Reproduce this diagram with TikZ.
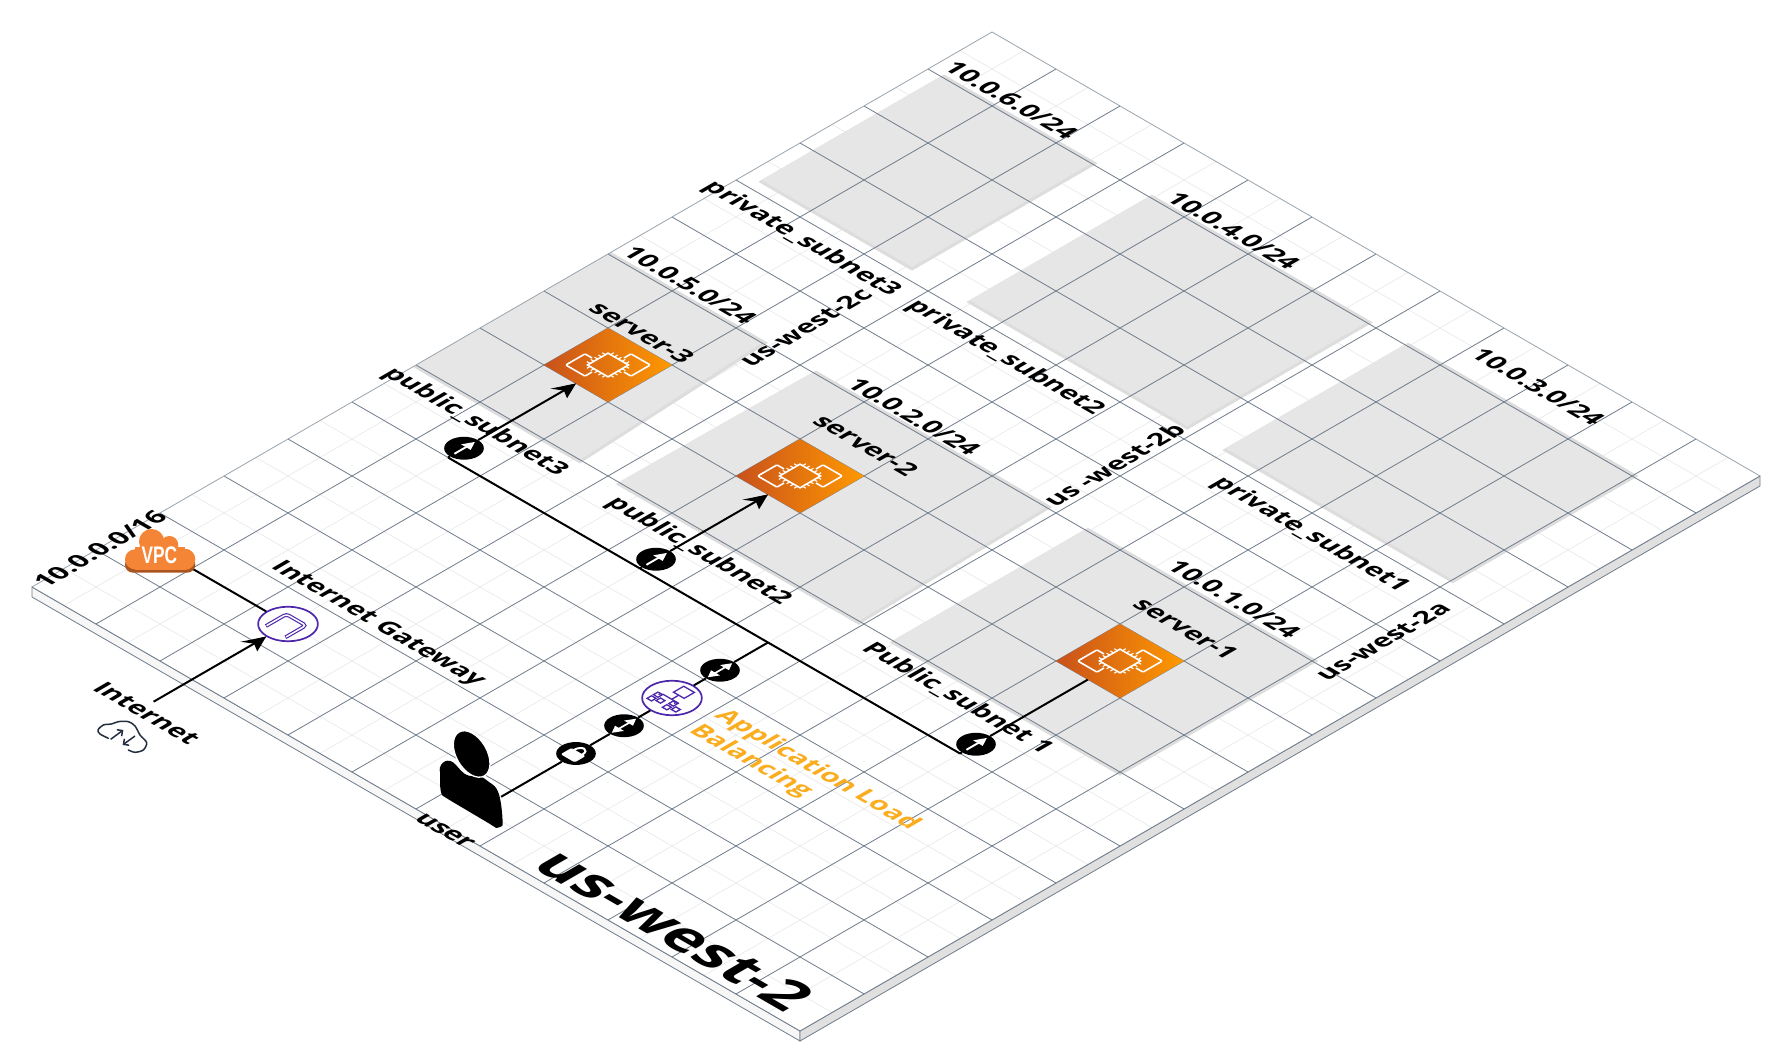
\documentclass[tikz,border=0pt]{standalone}
\usepackage{fontspec}
\setmainfont{Open Sans}
\newfontfamily\vpcfont{Liberation Sans}
\usetikzlibrary{arrows.meta}
\definecolor{major}{HTML}{6F7C8B}
\definecolor{minor}{HTML}{EBEBEB}
\definecolor{edgeline}{HTML}{9AA4AE}
\definecolor{subnetgray}{HTML}{E6E6E6}
\definecolor{subnetshade}{HTML}{DDDDDD}
\definecolor{purple}{HTML}{4D27AA}
\definecolor{awsorange}{HTML}{F58536}
\definecolor{awsdark}{HTML}{A9541F}
\definecolor{squid}{HTML}{232F3E}
\definecolor{albtext}{HTML}{FAAD1E}
\definecolor{srvleft}{HTML}{C8511B}
\definecolor{srvright}{HTML}{FF9900}
\tikzset{
  isoplane/.style={cm={.8,-.4625,.8,.4625,(32pt,476pt)},x=80pt,y=80pt},
  isolab/.style={transform shape,font=\bfseries\fontsize{26}{32}\selectfont,text=black,inner sep=0pt,xscale=1.125},
  alonglab/.style={rotate=90,isolab},
  wire/.style={line width=2pt,black},
  wirearrow/.style={wire,-{Stealth[length=13pt,width=8pt,inset=3pt]}},
  gwnode/.style={circle,transform shape,draw=purple,line width=1.7pt,fill=white,inner sep=0pt,minimum size=52.8pt},
  dotnode/.style={circle,transform shape,fill=black,inner sep=0pt,minimum size=35pt},
  srvnode/.style={rectangle,transform shape,inner sep=0pt,outer sep=0pt,minimum size=80pt},
  iconwhite/.style={white,line width=1.6pt},
  iconpurple/.style={purple,line width=1.3pt},
  pics/chipicon/.style={code={
    \draw[iconwhite,rounded corners=1pt] (-.22,-.03)--(-.33,-.03)--(-.33,-.33)--(-.03,-.33)--(-.03,-.22);
    \draw[iconwhite,rounded corners=1pt] (.22,.03)--(.33,.03)--(.33,.33)--(.03,.33)--(.03,.22);
    \draw[iconwhite] (-.16,-.16) rectangle (.16,.16);
    \foreach \t in {-.12,-.06,0,.06,.12}{
      \draw[iconwhite,line width=1.1pt] (\t,.16)--(\t,.21);
      \draw[iconwhite,line width=1.1pt] (\t,-.16)--(\t,-.21);
      \draw[iconwhite,line width=1.1pt] (.16,\t)--(.21,\t);
      \draw[iconwhite,line width=1.1pt] (-.16,\t)--(-.21,\t);
    }
  }},
  pics/isotip/.style={code={
    \fill[black] (0,0)--(-.13,-.27)--(0,-.19)--(.13,-.27)--cycle;
  }},
  pics/uparrow/.style={code={
    \draw[white,line width=1.9pt] (0,-.15)--(0,.06);
    \fill[white] (0,.17)--(-.075,.03)--(.075,.03)--cycle;
  }},
  pics/bothways/.style={code={
    \draw[white,line width=1.7pt] (0,-.1)--(0,.1);
    \fill[white] (0,.19)--(-.07,.07)--(.07,.07)--cycle;
    \fill[white] (0,-.19)--(-.07,-.07)--(.07,-.07)--cycle;
  }},
  pics/padlock/.style={code={
    \fill[white,rounded corners=1.5pt] (-.11,-.13) rectangle (.11,.04);
    \draw[white,line width=2pt] (-.065,.03) .. controls (-.065,.16) and (.065,.16) .. (.065,.03);
  }},
  pics/gatewayu/.style={code={
    \draw[purple,line width=3.8pt,rounded corners=3pt] (-.145,-.2)--(-.145,.12)--(.16,.12)--(.16,-.2);
    \draw[white,line width=1.5pt,rounded corners=3pt] (-.145,-.19)--(-.145,.12)--(.16,.12)--(.16,-.19);
  }},
  pics/albtree/.style={code={
    \draw[iconpurple] (-.067,.09) rectangle (.1,.25);
    \draw[iconpurple] (.015,.09)--(.015,-.02);
    \draw[iconpurple] (-.13,-.02)--(.13,-.02);
    \foreach \c in {-.12,.12}{
      \draw[iconpurple] (\c-.03,-.02)--(\c-.03,-.06);
      \draw[iconpurple] (\c-.07,-.1) rectangle (\c-.0,-.03);
      \draw[iconpurple] (\c-.07,-.2) rectangle (\c-.0,-.13);
      \draw[iconpurple] (\c+.03,-.16) rectangle (\c+.1,-.09);
    }
  }}
}
\begin{document}
\begin{tikzpicture}[x=1pt,y=1pt]
\useasboundingbox (0,0) rectangle (1792,1063);
% plate sides
\draw[major,line width=.8pt,fill=black!3] (32,476)--(800,32)--(800,22)--(32,466)--cycle;
\draw[major,line width=.8pt,fill=black!12] (800,32)--(1760,587)--(1760,577)--(800,22)--cycle;
\begin{scope}[isoplane]
  \fill[white] (0,0) rectangle (12,15);
  \foreach \k in {0,...,11}{\draw[minor,line width=.7pt] (\k+.5,0)--(\k+.5,15);}
  \foreach \k in {0,...,14}{\draw[minor,line width=.7pt] (0,\k+.5)--(12,\k+.5);}
  % subnet areas
  \foreach \a/\b/\c/\d/\e/\f/\g/\h in {
    0/6/0/9/2.4/9/2.56/6,
    3.17/6/3.2/9/6.84/9/6.92/6,
    7.45/6/7.45/9/11/9/11/6,
    .2/11.2/.2/14/2.55/14/2.55/11.2,
    3.45/11.2/3.45/14/6.85/14/6.85/11.2,
    7.45/11.2/7.45/14/11/14/11/11.2}{
    \fill[subnetshade] (\a,\b-.05)--(\c,\d+.05)--(\e+.05,\f+.05)--(\g+.05,\h-.05)--cycle;
    \fill[subnetgray] (\a,\b)--(\c,\d)--(\e,\f)--(\g,\h)--cycle;
  }
  \foreach \k in {1,...,11}{\draw[major,line width=.8pt] (\k,0)--(\k,15);}
  \foreach \k in {1,...,14}{\draw[major,line width=.8pt] (0,\k)--(12,\k);}
  \draw[edgeline,line width=.8pt] (0,0)--(0,15)--(12,15);
  \draw[major,line width=.8pt] (0,0)--(12,0)--(12,15);
  % named places
  \coordinate (vpcport) at (1,1.5);
  \coordinate (inetport) at (2.5,-.6);
  \coordinate (userport) at (6.5,.83);
  \coordinate (trunkw) at (1.5,5);
  \coordinate (trunkm) at (4.5,5);
  \coordinate (trunkalb) at (6.5,5);
  \coordinate (trunke) at (9.5,5);
  \node[srvnode] (server3) at (1.5,7.5) {};
  \node[srvnode] (server2) at (4.5,7.5) {};
  \node[srvnode] (server1) at (9.5,7.5) {};
  \node[gwnode] (igw) at (2.5,1.5) {};
  \node[gwnode] (alb) at (6.5,3.5) {};
  \node[dotnode] (lockdot) at (6.5,2) {};
  \node[dotnode] (albin) at (6.5,2.75) {};
  \node[dotnode] (albout) at (6.5,4.25) {};
  \node[dotnode] (dot3) at (1.5,5.25) {};
  \node[dotnode] (dot2) at (4.5,5.25) {};
  \node[dotnode] (dot1) at (9.5,5.25) {};
  % connectors
  \draw[wire] (vpcport)--(igw);
  \draw[wirearrow] (inetport)--(igw);
  \draw[wire] (trunkw)--(trunke);
  \draw[wire] (trunkw)--(dot3);
  \draw[wire] (trunkm)--(dot2);
  \draw[wire] (trunke)--(dot1);
  \draw[wirearrow] (dot3)--(server3);
  \draw[wirearrow] (dot2)--(server2);
  \draw[wire] (dot1)--(server1);
  \draw[wire] (userport)--(lockdot);
  \draw[wire] (lockdot)--(albin);
  \draw[wire] (albin)--(alb);
  \draw[wire] (alb)--(albout);
  \draw[wire] (albout)--(trunkalb);
\end{scope}
% servers
\foreach \s in {server1,server2,server3}{
  \shade[left color=srvleft,right color=srvright]
    (\s.south west)--(\s.north west)--(\s.north east)--(\s.south east)--cycle;
}
\begin{scope}[isoplane]
  \pic[transform shape] at (server3.south) {isotip};
  \pic[transform shape] at (server2.south) {isotip};
  \pic[transform shape] at (igw.south) {isotip};
  \pic[transform shape] at (server3.center) {chipicon};
  \pic[transform shape] at (server2.center) {chipicon};
  \pic[transform shape] at (server1.center) {chipicon};
  \pic[transform shape] at (dot3.center) {uparrow};
  \pic[transform shape] at (dot2.center) {uparrow};
  \pic[transform shape] at (dot1.center) {uparrow};
  \pic[transform shape] at (albin.center) {bothways};
  \pic[transform shape] at (albout.center) {bothways};
  \pic[transform shape] at (lockdot.center) {padlock};
  \pic[transform shape] at (igw.center) {gatewayu};
  \pic[transform shape] at (alb.center) {albtree};
\end{scope}
% VPC cloud
\begin{scope}[shift={(90,543)},x=.3333pt,y=-.3333pt]
  \fill[awsdark,rounded corners=8pt] (105,110) rectangle (316,158);
  \fill[awsorange] (135,118) circle (30);
  \fill[awsorange] (185,65) circle (38);
  \fill[awsorange] (238,75) circle (27);
  \fill[awsorange] (284,118) circle (32);
  \fill[awsorange] (135,80) rectangle (285,150);
  \node[text=white,font=\vpcfont\bfseries\fontsize{24}{24}\selectfont,xscale=.72,inner sep=0pt] (vpc) at (208,106) {VPC};
\end{scope}
% Internet cloud
\begin{scope}[shift={(90,543)},x=.3333pt,y=-.3333pt]
  \draw[squid,line width=1.5pt,line cap=round,line join=round] plot[smooth] coordinates {(55,655)(30,642)(24,630)(40,615)(65,612)(85,605)(115,605)(135,618)(150,645)(170,668)(160,690)(135,697)(115,690)};
  \draw[squid,line width=1.5pt,-{Straight Barb[length=4pt,width=8pt]}] (62,658)--(100,630);
  \draw[squid,line width=1.5pt,-{Straight Barb[length=4pt,width=8pt]}] (135,648)--(98,675);
\end{scope}
% user
\begin{scope}[shift={(430,403)},x=.3333pt,y=-.3333pt]
  \fill[black,rounded corners=5pt] (30,345) .. controls (28,310) and (55,285) .. (90,330)
     .. controls (120,355) and (150,345) .. (175,365)
     .. controls (205,385) and (212,410) .. (218,480)
     .. controls (218,500) and (200,505) .. (185,495)
     -- (50,415) .. controls (35,405) and (30,395) .. (30,345) -- cycle;
  \draw[white,line width=1.3pt,fill=black,rotate around={-60:(125,282)}] (125,282) ellipse (76 and 46);
\end{scope}
\begin{scope}[isoplane]
  \node[alonglab] (labcidr) at (.018,1.045) {10.0.0.0/16};
  \node[isolab] (labigw) at (3.2,2.2) {Internet Gateway};
  \node[isolab] (labinet) at (2.6,-.804) {Internet};
  \node[isolab] (labuser) at (6.52,-.07) {user};
  \node[isolab,font=\bfseries\fontsize{59.6}{70}\selectfont] (labregion) at (9.66,.39) {us-west-2};
  \node[isolab,text=albtext,align=left,anchor=west] (labalb) at (7.07,3.46) {Application Load\\Balancing};
  \node[isolab] (labpub3) at (1.23,5.69) {public\_subnet3};
  \node[isolab] (labpub2) at (4.72,5.69) {public\_subnet2};
  \node[isolab] (labpub1) at (8.73,5.73) {Public\_subnet 1};
  \node[isolab] (labsrv3) at (1.33,8.2) {server-3};
  \node[isolab] (labsrv2) at (4.6,8.43) {server-2};
  \node[isolab] (labsrv1) at (9.58,8.45) {server-1};
  \node[isolab] (labc5) at (1.06,9.22) {10.0.5.0/24};
  \node[isolab] (labc2) at (4.59,9.19) {10.0.2.0/24};
  \node[isolab] (labc1) at (9.55,9.23) {10.0.1.0/24};
  \node[isolab] (labc3) at (9.06,14.47) {10.0.3.0/24};
  \node[isolab] (labc4) at (4.57,14.2) {10.0.4.0/24};
  \node[isolab] (labc6) at (1.07,14.23) {10.0.6.0/24};
  \node[isolab] (labpriv3) at (1.31,10.71) {private\_subnet3};
  \node[isolab] (labpriv2) at (4.5,10.7) {private\_subnet2};
  \node[isolab] (labpriv1) at (9.28,10.69) {private\_subnet1};
  \node[alonglab] (labaz3) at (2.53,9.55) {us-west-2c};
  \node[alonglab] (labaz2) at (6.8,10.1) {us -west-2b};
  \node[alonglab] (labaz1) at (11.28,9.82) {us-west-2a};
\end{scope}
\end{tikzpicture}
\end{document}
